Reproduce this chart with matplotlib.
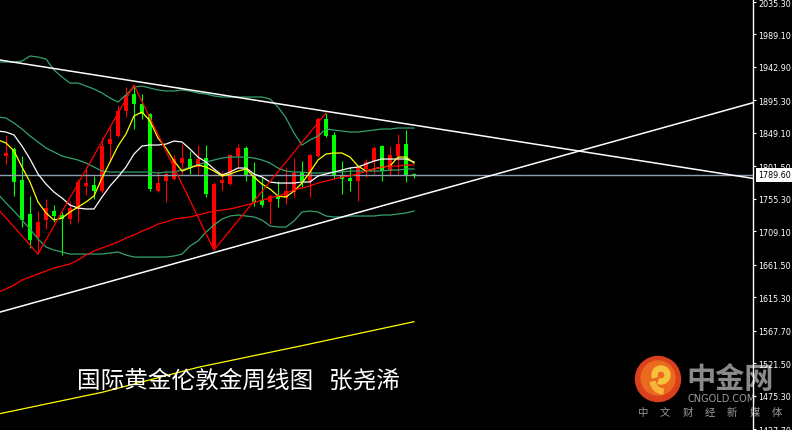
import matplotlib.pyplot as plt
import matplotlib.transforms as mtransforms
from matplotlib.patches import Circle, Wedge

CJK = ['Noto Sans CJK SC', 'DejaVu Sans']

# weekly XAUUSD candles, oldest first (red = up week, green = down week)
opens = [1864.5, 1816.2, 1826.1, 1782.0, 1733.6, 1700.9, 1725.1, 1737.9, 1732.2, 1726.5,
         1740.8, 1773.5, 1774.9, 1766.4, 1833.2, 1844.6, 1880.2, 1904.4, 1890.2, 1875.9,
         1766.4, 1780.6, 1783.4, 1806.2, 1811.9, 1800.5, 1813.3, 1686.7, 1777.7, 1776.3,
         1816.2, 1827.6, 1787.7, 1753.6, 1750.7, 1759.3, 1756.4, 1764.9, 1793.4, 1780.6,
         1816.2, 1868.8, 1846.1, 1789.1, 1784.9, 1780.6, 1797.7, 1809.0, 1830.4, 1794.8,
         1816.2, 1833.2, 1791.0]
closes = [1811.9, 1820.4, 1779.2, 1725.1, 1696.6, 1722.3, 1742.2, 1730.8, 1726.5, 1742.2,
          1779.2, 1777.7, 1766.4, 1830.4, 1840.4, 1880.2, 1903.0, 1890.2, 1875.9, 1769.2,
          1777.7, 1790.6, 1811.9, 1813.3, 1799.1, 1811.9, 1762.1, 1776.3, 1782.0, 1817.6,
          1827.6, 1787.7, 1750.7, 1746.4, 1759.3, 1755.0, 1766.4, 1792.0, 1780.6, 1817.6,
          1868.8, 1844.6, 1787.7, 1783.4, 1780.6, 1799.1, 1807.6, 1827.6, 1794.8, 1817.6,
          1833.2, 1787.7, 1789.6]
highs = [1871.7, 1846.1, 1829.0, 1816.2, 1759.3, 1737.9, 1755.0, 1746.4, 1736.5, 1752.1,
         1783.4, 1797.7, 1787.7, 1843.2, 1858.9, 1888.7, 1914.3, 1917.2, 1904.4, 1877.4,
         1794.8, 1794.8, 1817.6, 1833.2, 1823.3, 1831.8, 1831.8, 1779.2, 1794.8, 1819.0,
         1833.2, 1830.4, 1807.6, 1786.3, 1762.1, 1780.6, 1800.5, 1813.3, 1809.0, 1818.5,
         1871.7, 1877.4, 1850.3, 1809.0, 1800.5, 1803.4, 1811.9, 1830.4, 1831.8, 1830.4,
         1847.5, 1853.2, 1792.0]
lows = [1804.8, 1804.8, 1759.3, 1715.1, 1685.3, 1676.7, 1712.3, 1722.3, 1675.3, 1719.7,
        1722.3, 1760.7, 1755.0, 1763.5, 1807.6, 1843.2, 1871.7, 1854.6, 1868.8, 1766.4,
        1764.9, 1750.7, 1782.0, 1790.6, 1790.6, 1790.6, 1757.8, 1682.4, 1767.8, 1774.9,
        1800.5, 1780.6, 1745.0, 1743.6, 1719.7, 1743.6, 1747.9, 1757.8, 1772.1, 1757.8,
        1814.7, 1843.2, 1783.4, 1762.1, 1766.4, 1752.1, 1786.3, 1790.6, 1780.6, 1787.7,
        1790.6, 1779.2, 1785.0]

# indicator lines
ma_fast = [1839.0, 1834.7, 1823.3, 1800.5, 1779.2, 1750.7, 1735.1, 1725.1, 1727.9, 1736.5,
           1743.6, 1750.7, 1759.3, 1784.9, 1807.6, 1830.4, 1847.5, 1873.1, 1878.8, 1866.0,
           1841.8, 1827.6, 1809.0, 1794.8, 1799.1, 1803.4, 1800.5, 1794.8, 1787.7, 1790.6,
           1794.8, 1797.7, 1786.3, 1776.3, 1769.2, 1759.3, 1757.8, 1766.4, 1777.7, 1793.4,
           1810.5, 1819.0, 1820.4, 1820.4, 1814.7, 1801.9, 1794.8, 1797.7, 1800.5, 1801.9,
           1814.7, 1814.7, 1806.2]
boll_mid = [1851.7, 1850.3, 1846.1, 1830.4, 1811.9, 1790.6, 1776.3, 1764.9, 1756.4, 1746.4,
            1742.2, 1740.8, 1740.8, 1757.8, 1773.5, 1786.3, 1800.5, 1819.0, 1830.4, 1831.8,
            1831.8, 1833.2, 1837.5, 1836.1, 1826.1, 1814.7, 1807.6, 1797.7, 1789.1, 1793.4,
            1799.1, 1799.1, 1790.6, 1786.3, 1779.2, 1777.7, 1777.7, 1777.7, 1779.2, 1779.2,
            1787.7, 1790.6, 1793.4, 1796.2, 1799.1, 1800.5, 1804.8, 1809.0, 1811.9, 1811.9,
            1811.9, 1811.9, 1807.6]
boll_up = [1949.9, 1949.9, 1949.9, 1951.3, 1958.5, 1957.0, 1954.2, 1938.5, 1928.6, 1920.0,
           1920.0, 1915.8, 1911.5, 1905.8, 1898.7, 1893.0, 1903.0, 1914.3, 1915.8, 1912.9,
           1910.1, 1908.7, 1908.7, 1910.1, 1908.7, 1905.8, 1904.4, 1901.6, 1900.1, 1900.1,
           1900.1, 1900.1, 1900.1, 1900.1, 1897.3, 1885.9, 1870.2, 1848.9, 1831.8, 1838.9,
           1844.6, 1854.6, 1853.2, 1851.7, 1850.3, 1850.3, 1851.7, 1853.2, 1854.6, 1854.6,
           1856.0, 1856.0, 1856.0]
boll_low = [1762.1, 1749.3, 1737.9, 1725.1, 1712.3, 1698.1, 1686.7, 1682.4, 1679.6, 1676.7,
            1676.7, 1676.7, 1676.7, 1676.7, 1678.1, 1679.6, 1675.3, 1672.4, 1672.4, 1672.4,
            1672.4, 1672.4, 1673.9, 1676.7, 1688.1, 1695.2, 1708.0, 1718.0, 1726.5, 1730.8,
            1732.2, 1730.8, 1729.4, 1725.1, 1716.6, 1715.1, 1715.1, 1723.7, 1736.5, 1737.9,
            1736.5, 1730.8, 1729.4, 1729.4, 1730.8, 1730.8, 1730.8, 1730.8, 1732.2, 1732.2,
            1733.6, 1735.1, 1737.9]
ma_green = [1871.7, 1870.2, 1863.1, 1854.6, 1844.6, 1836.1, 1827.6, 1821.9, 1816.2, 1813.3,
            1810.5, 1806.2, 1800.5, 1794.8, 1793.4, 1793.4, 1793.4, 1793.4, 1793.4, 1793.4,
            1792.0, 1793.4, 1793.4, 1796.2, 1800.5, 1803.4, 1807.6, 1810.5, 1813.3, 1814.7,
            1814.7, 1814.7, 1813.3, 1810.5, 1806.2, 1799.1, 1794.8, 1793.4, 1793.4, 1792.0,
            1792.0, 1792.0, 1793.4, 1793.4, 1794.8, 1794.8, 1794.8, 1794.8, 1794.8, 1796.2,
            1796.2, 1797.7, 1797.7]
ma_red = [1622.6, 1626.9, 1632.6, 1639.7, 1644.0, 1648.3, 1652.5, 1656.8, 1659.6, 1662.5,
          1668.2, 1675.3, 1681.0, 1685.3, 1689.5, 1693.8, 1699.5, 1703.7, 1709.4, 1713.7,
          1719.4, 1722.3, 1726.5, 1727.9, 1729.4, 1732.2, 1735.1, 1737.9, 1739.3, 1740.8,
          1743.6, 1746.4, 1749.3, 1753.6, 1756.4, 1759.3, 1763.5, 1767.8, 1770.6, 1773.5,
          1777.7, 1780.6, 1783.4, 1786.3, 1787.7, 1790.6, 1794.8, 1797.7, 1800.5, 1801.9,
          1801.9, 1803.4, 1803.4]
ma_slow_x = [0, 13, 25, 38, 52]
ma_slow = [1449.0, 1479.9, 1515.5, 1546.3, 1580.4]

zigzag_x = [0, 5, 17, 27, 41]
zigzag_y = [1740.8, 1676.7, 1917.2, 1682.4, 1877.4]

# hand drawn trend lines (start / end)
trend_x = [0, 95]
resist_y = [1953.2, 1783.2]
support_y = [1593.3, 1894.0]

last_price = 1789.60
ytick_vals = [2035.30, 1989.10, 1942.90, 1895.30, 1849.10, 1801.50, 1755.30,
              1709.10, 1661.50, 1615.30, 1567.70, 1521.50, 1475.30, 1427.70]

title = '国际黄金伦敦金周线图   张尧浠'

fig = plt.figure(figsize=(7.92, 4.31), dpi=100, facecolor='black')

# watermark logo (sits below the chart)
ax_logo = fig.add_axes([630 / 792, 6 / 431, 162 / 792, 70 / 431], zorder=0)
ax_logo.set_xlim(630, 792)
ax_logo.set_ylim(425, 355)
ax_logo.axis('off')
ax_logo.add_patch(Circle((658, 380), 22.5, color='#d9401b'))
ax_logo.add_patch(Circle((658, 379), 17, color='#ec6a1f'))
ax_logo.add_patch(Wedge((661, 376), 9, -200, 110, width=5, color='#f7c23c'))
ax_logo.add_patch(Wedge((664, 381), 14, 95, 170, width=5, color='#f5b53a'))
ax_logo.text(686, 379, '中金网', fontsize=21, fontweight='bold', color='#8a8a8a',
             va='center', ha='left', family=CJK)
ax_logo.text(688, 399, 'CNGOLD.COM', fontsize=7, color='#9a9a9a', va='center', ha='left')
for k, ch in enumerate('中文财经新媒体'):
    ax_logo.text(643 + k * 22.3, 413, ch, fontsize=7.5, color='#9a9a9a',
                 va='center', ha='center', family=CJK)

ax = fig.add_axes([0, 0, 753 / 792, 1], zorder=1)
ax.set_facecolor('none')

n = len(opens)
xs = list(range(n))
for i in xs:
    o, c = opens[i], closes[i]
    col = '#ff0000' if c >= o else '#00ff00'
    ax.vlines(i, lows[i], highs[i], color=col, lw=0.8, zorder=2)
    ax.bar(i, max(abs(c - o), 1.4), bottom=min(o, c), width=0.62, color=col,
           linewidth=0, zorder=2)

ax.axhline(last_price, color='#8e9cb0', lw=1, zorder=3)

gcol = '#34a26c'
ax.plot(xs, boll_up, color=gcol, lw=0.9, zorder=4)
ax.plot(xs, boll_low, color=gcol, lw=0.9, zorder=4)
ax.plot(xs, ma_green, color=gcol, lw=0.9, zorder=4)
ax.plot(xs, boll_mid, color='white', lw=0.9, zorder=4)
ax.plot(xs, ma_fast, color='#ffff00', lw=0.9, zorder=4)
ax.plot(xs, ma_red, color='#ff0000', lw=0.9, zorder=4)
ax.plot(ma_slow_x, ma_slow, color='#ffff00', lw=0.9, zorder=4)
ax.plot(zigzag_x, zigzag_y, color='#ff0000', lw=0.9, zorder=4)
ax.plot(trend_x, resist_y, color='white', lw=1.1, zorder=5)
ax.plot(trend_x, support_y, color='white', lw=1.1, zorder=5)

ax.set_xlim(0.25, 94.375)
ax.set_ylim(1426.3, 2039.6)
ax.set_xticks([])
ax.yaxis.tick_right()
ax.set_yticks(ytick_vals)
ax.set_yticklabels([f'{v:.2f}' for v in ytick_vals])
ax.tick_params(axis='y', colors='white', length=2.5, width=0.8, pad=1.2, labelsize=5.8)
for side in ['left', 'top', 'bottom']:
    ax.spines[side].set_visible(False)
ax.spines['right'].set_color('white')
ax.spines['right'].set_linewidth(1)

trans = mtransforms.blended_transform_factory(ax.transAxes, ax.transData)
ax.text(1.0 + 5 / 753, last_price, f'{last_price:.2f}', transform=trans, ha='left',
        va='center', fontsize=5.8, color='black', clip_on=False, zorder=6,
        bbox=dict(boxstyle='square,pad=0.3', fc='white', ec='none'))

fig.text(77 / 792, 1 - 381 / 431, title, fontsize=17, color='white',
         family=CJK, va='center', ha='left')

fig.savefig('out.png', dpi=100, facecolor='black')
